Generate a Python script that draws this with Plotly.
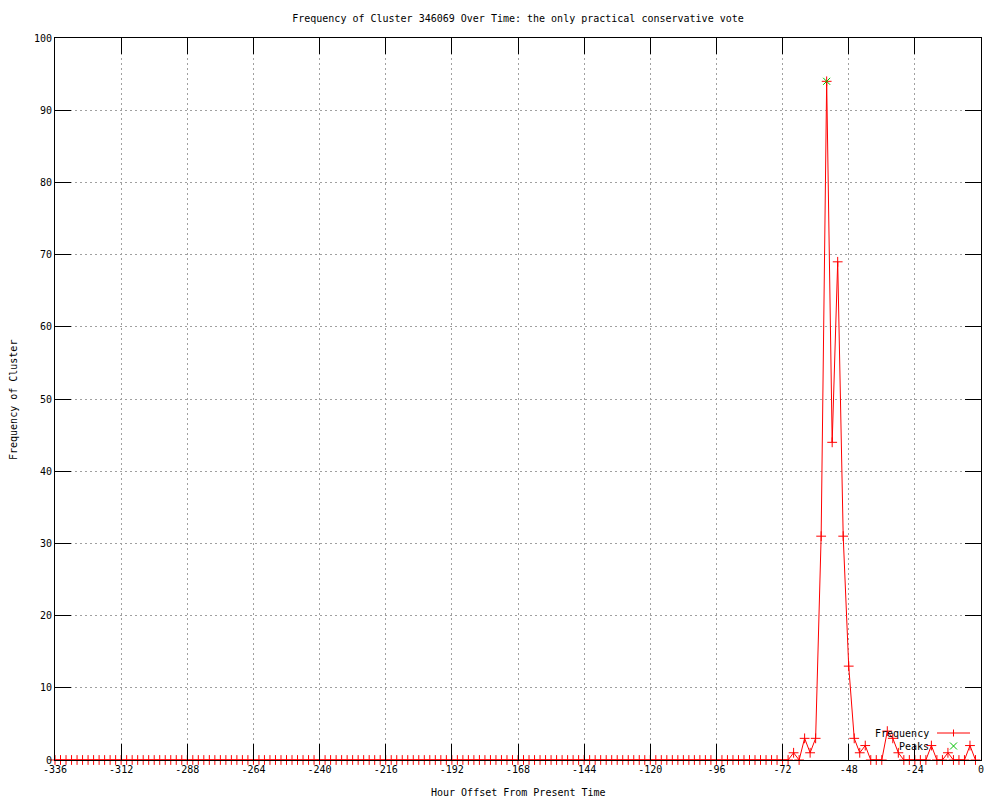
import plotly.graph_objects as go

# ---- data ----
hours = list(range(-336, 0, 2))  # -336 .. -2, every 2 hours
freq_values = [
    0, 0, 0, 0, 0, 0, 0, 0, 0, 0, 0, 0, 0, 0, 0, 0, 0, 0, 0, 0,
    0, 0, 0, 0, 0, 0, 0, 0, 0, 0, 0, 0, 0, 0, 0, 0, 0, 0, 0, 0,
    0, 0, 0, 0, 0, 0, 0, 0, 0, 0, 0, 0, 0, 0, 0, 0, 0, 0, 0, 0,
    0, 0, 0, 0, 0, 0, 0, 0, 0, 0, 0, 0, 0, 0, 0, 0, 0, 0, 0, 0,
    0, 0, 0, 0, 0, 0, 0, 0, 0, 0, 0, 0, 0, 0, 0, 0, 0, 0, 0, 0,
    0, 0, 0, 0, 0, 0, 0, 0, 0, 0, 0, 0, 0, 0, 0, 0, 0, 0, 0, 0,
    0, 0, 0, 0, 0, 0, 0, 0, 0, 0, 0, 0, 0, 0,
    1, 0, 3, 1, 3, 31, 94, 44, 69, 31, 13, 3, 1, 2, 0, 0, 0, 4, 3, 1,
    0, 0, 0, 0, 0, 2, 0, 0, 1, 0, 0, 0, 2, 0,
]
peak_hours = [-56]
peak_values = [94]

x_tick_vals = [-336, -312, -288, -264, -240, -216, -192, -168, -144, -120, -96, -72, -48, -24, 0]
x_tick_text = ["-336", "-312", "-288", "-264", "-240", "-216", "-192", "-168", "-144", "-120",
               "-96", "-72", "-48", "-24", "0"]
y_tick_vals = [0, 10, 20, 30, 40, 50, 60, 70, 80, 90, 100]

title_text = "Frequency of Cluster 346069 Over Time: the only practical conservative vote"
x_title = "Hour Offset From Present Time"
y_title = "Frequency of Cluster"

# ---- layout geometry ----
W, H = 1000, 800
L, R, T, B = 55, 19, 38, 40
PW, PH = W - L - R, H - T - B
FONT = "DejaVu Sans Mono"
RED = "#ff0000"
GREEN = "#00c000"


def px(x):
    return (x - L) / PW


def py(y):
    return (H - B - y) / PH


fig = go.Figure()
fig.add_trace(go.Scatter(
    x=hours, y=freq_values, mode="lines+markers", name="Frequency",
    line=dict(color=RED, width=1),
    marker=dict(symbol="cross-thin", size=7, line=dict(color=RED, width=1), color=RED),
    cliponaxis=False, showlegend=False,
))
fig.add_trace(go.Scatter(
    x=peak_hours, y=peak_values, mode="markers", name="Peaks",
    marker=dict(symbol="x-thin", size=7, line=dict(color=GREEN, width=1), color=GREEN),
    cliponaxis=False, showlegend=False,
))

axis_common = dict(
    showline=True, linecolor="black", linewidth=1, mirror="ticks",
    ticks="inside", ticklen=16, tickwidth=1, tickcolor="black",
    showgrid=True, gridcolor="#a0a0a0", gridwidth=1, griddash="2px,3px",
    zeroline=False, tickfont=dict(family=FONT, size=10, color="black"),
    layer="above traces",
)

fig.update_xaxes(range=[-336, 0], tickvals=x_tick_vals, ticktext=x_tick_text, **axis_common)
fig.update_yaxes(range=[0, 100], tickvals=y_tick_vals, **axis_common)

shapes = [
    # Frequency legend sample
    dict(type="line", xref="paper", yref="paper", x0=px(937), x1=px(970), y0=py(733), y1=py(733),
         line=dict(color=RED, width=1)),
    dict(type="line", xref="paper", yref="paper", x0=px(953.5), x1=px(953.5), y0=py(729.5), y1=py(736.5),
         line=dict(color=RED, width=1)),
    # Peaks legend sample (x)
    dict(type="line", xref="paper", yref="paper", x0=px(950), x1=px(957), y0=py(742.5), y1=py(749.5),
         line=dict(color=GREEN, width=1)),
    dict(type="line", xref="paper", yref="paper", x0=px(950), x1=px(957), y0=py(749.5), y1=py(742.5),
         line=dict(color=GREEN, width=1)),
]

annotations = [
    dict(text="Frequency", xref="paper", yref="paper", x=px(931), y=py(733),
         xanchor="right", yanchor="middle", showarrow=False,
         font=dict(family=FONT, size=10, color="black")),
    dict(text="Peaks", xref="paper", yref="paper", x=px(931), y=py(746),
         xanchor="right", yanchor="middle", showarrow=False,
         font=dict(family=FONT, size=10, color="black")),
    dict(text=x_title, xref="paper", yref="paper", x=px(518), y=py(792),
         xanchor="center", yanchor="middle", showarrow=False,
         font=dict(family=FONT, size=10, color="black")),
    dict(text=y_title, xref="paper", yref="paper", x=px(13), y=py(400),
         xanchor="center", yanchor="middle", showarrow=False, textangle=-90,
         font=dict(family=FONT, size=10, color="black")),
]

fig.update_layout(
    width=W, height=H,
    margin=dict(l=L, r=R, t=T, b=B),
    paper_bgcolor="white", plot_bgcolor="white",
    title=dict(text=title_text, x=0.518, xanchor="center", y=1 - 18 / H, yanchor="middle",
               font=dict(family=FONT, size=10, color="black")),
    shapes=shapes, annotations=annotations,
    showlegend=False,
)

fig.write_html("out.html", config={"displayModeBar": False},
               post_script="document.body.style.margin='0';document.body.style.overflow='hidden';")
